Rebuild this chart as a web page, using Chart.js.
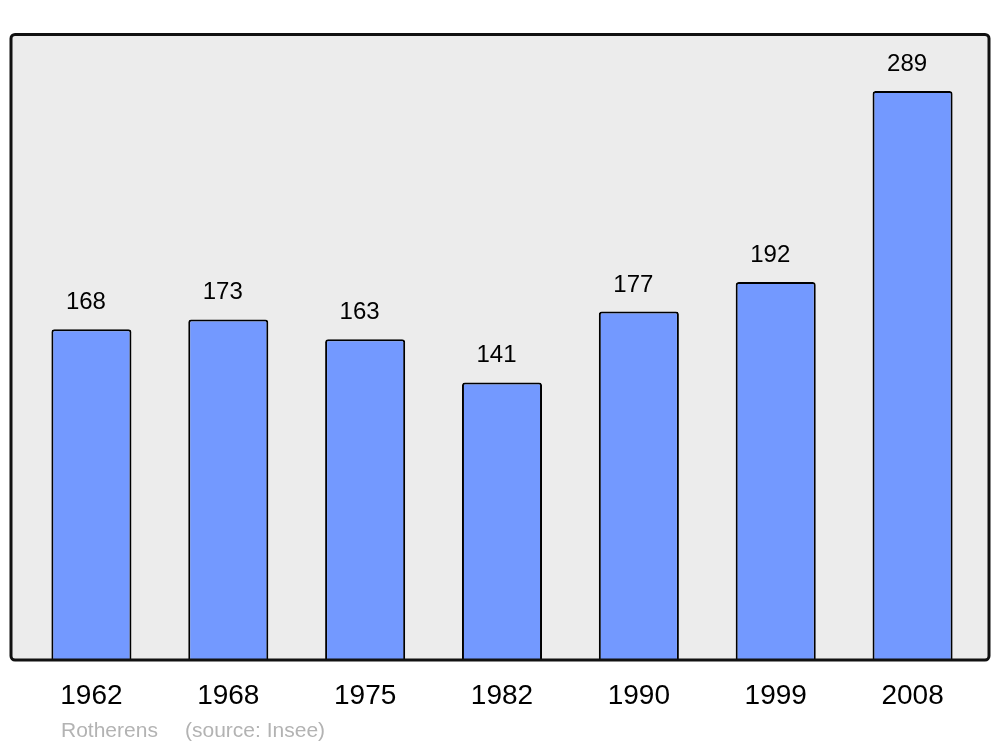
<!DOCTYPE html>
<html>
<head>
<meta charset="utf-8">
<script src="https://cdn.jsdelivr.net/npm/chart.js@4"></script>
<style>
  body { margin: 0; background: #fff; }
  canvas { display: block; }
</style>
</head>
<body>
<canvas id="chart" width="1000" height="747"></canvas>
<script>
var years = ["1962", "1968", "1975", "1982", "1990", "1999", "2008"];
var population = [168, 173, 163, 141, 177, 192, 289];
var townName = "Rotherens";
var sourceText = "(source: Insee)";

// grey panel behind the bars, frame drawn over the bar bases
var panel = {
    id: 'panel',
    beforeDatasetsDraw: function (chart) {
        var ctx = chart.ctx;
        ctx.save();
        ctx.beginPath();
        ctx.roundRect(11, 34.5, 978, 625.5, 4);
        ctx.fillStyle = '#ececec';
        ctx.fill();
        ctx.restore();
    },
    afterDatasetsDraw: function (chart) {
        var ctx = chart.ctx;
        ctx.save();
        ctx.beginPath();
        ctx.roundRect(11, 34.5, 978, 625.5, 4);
        ctx.lineWidth = 3;
        ctx.strokeStyle = '#111';
        ctx.stroke();

        // value above each bar
        var meta = chart.getDatasetMeta(0);
        ctx.font = '24px "Liberation Sans", Arial, sans-serif';
        ctx.fillStyle = '#000';
        ctx.textAlign = 'center';
        ctx.textBaseline = 'alphabetic';
        meta.data.forEach(function (bar, i) {
            ctx.fillText(String(population[i]), bar.x - 5.5, bar.y - 20);
        });

        // footer
        ctx.font = '21px "Liberation Sans", Arial, sans-serif';
        ctx.fillStyle = '#b3b3b3';
        ctx.textAlign = 'left';
        ctx.fillText(townName, 61, 737);
        ctx.fillText(sourceText, 185, 737);
        ctx.restore();
    }
};

new Chart(document.getElementById('chart'), {
    type: 'bar',
    data: {
        labels: years,
        datasets: [{
            data: population,
            backgroundColor: '#7399ff',
            borderColor: '#000',
            borderWidth: 2,
            borderRadius: 3,
            barPercentage: 0.585,
            categoryPercentage: 1
        }]
    },
    options: {
        responsive: false,
        animation: false,
        layout: { padding: { left: 23, right: 19, top: 34, bottom: 0 } },
        plugins: { legend: { display: false }, tooltip: { enabled: false } },
        scales: {
            x: {
                offset: true,
                grid: { display: false, drawTicks: false },
                border: { display: false },
                ticks: {
                    color: '#000',
                    padding: 19,
                    maxRotation: 0,
                    font: { family: '"Liberation Sans", Arial, sans-serif', size: 28 }
                },
                afterFit: function (scale) { scale.height = 87; }
            },
            y: {
                display: false,
                min: 0,
                max: 318
            }
        }
    },
    plugins: [panel]
});
</script>
</body>
</html>
